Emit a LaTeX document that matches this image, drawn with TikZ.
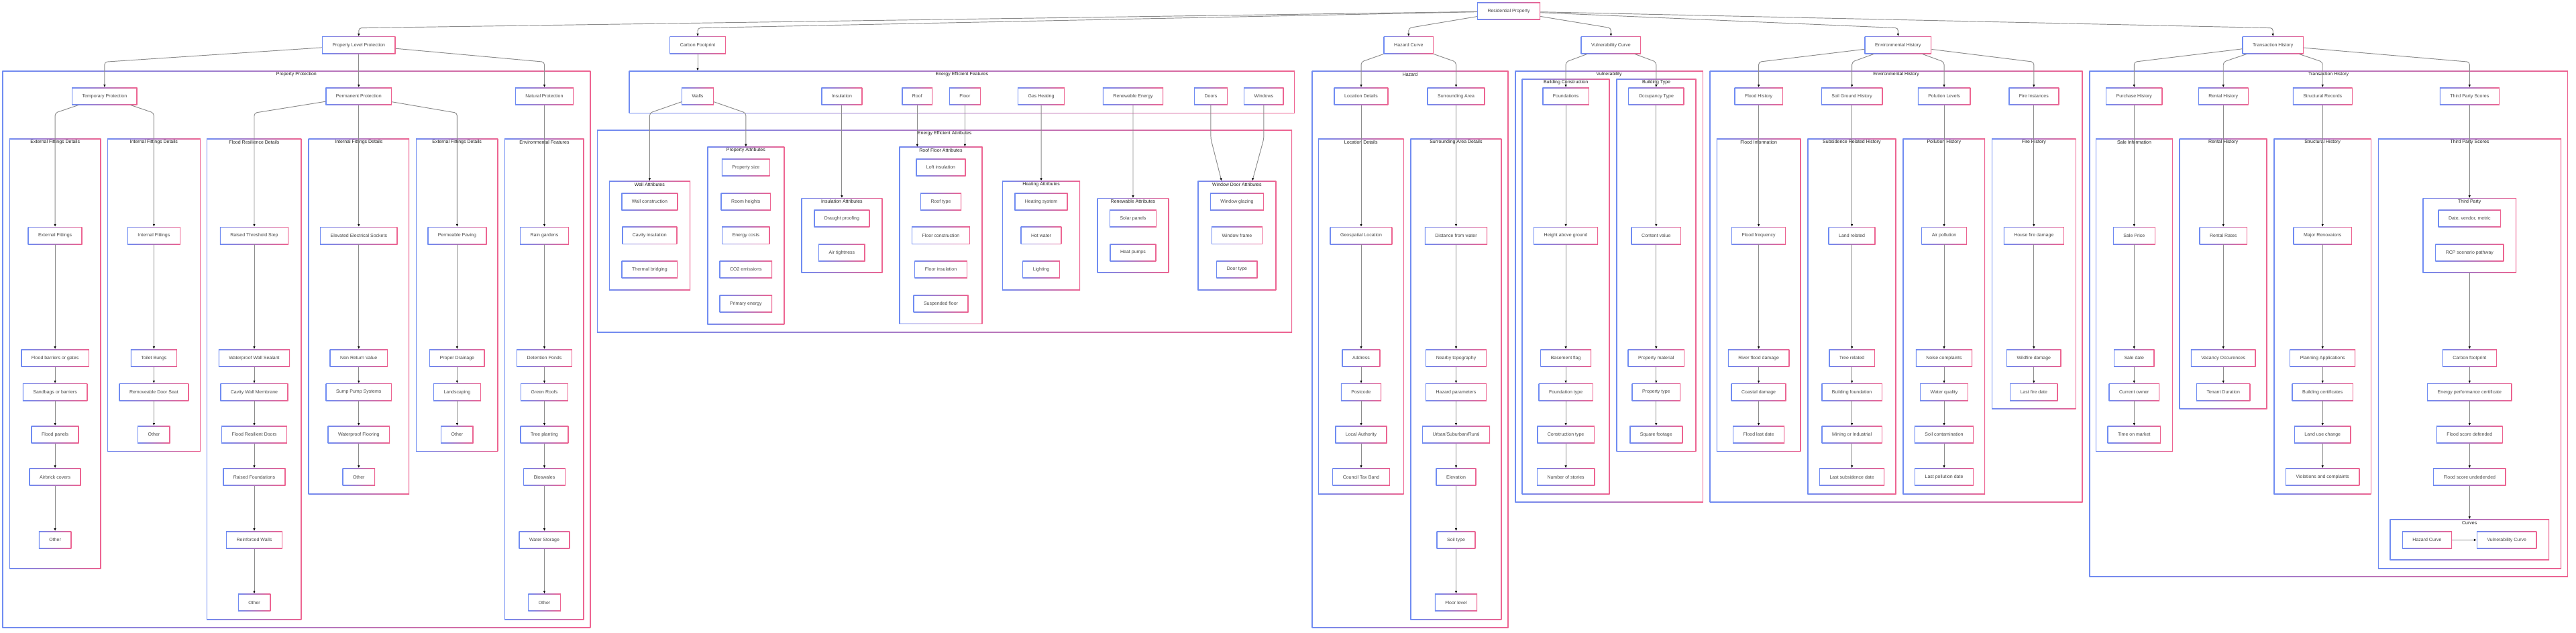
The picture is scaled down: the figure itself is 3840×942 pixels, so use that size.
\documentclass[tikz,border=0pt]{standalone}
\usepackage{fontspec}
\setmainfont{Liberation Sans}
\usetikzlibrary{arrows.meta}
\definecolor{cblue}{RGB}{112,140,242}
\definecolor{cpink}{RGB}{238,100,145}
\definecolor{txtgray}{RGB}{70,70,70}
\definecolor{ttlgray}{RGB}{30,30,30}
\definecolor{edgegray}{RGB}{140,140,140}
\tikzset{
	gradframe/.style={fill=white, path picture={
		\shade[left color=cblue, right color=cpink] (path picture bounding box.south west) rectangle (path picture bounding box.north east);
		\fill[white] ([shift={(1.2pt,1.2pt)}]path picture bounding box.south west) rectangle ([shift={(-1.2pt,-1.2pt)}]path picture bounding box.north east);}},
	box/.style={gradframe, rectangle, inner xsep=15.5pt, inner ysep=0pt, minimum height=26pt, text=txtgray, font=\fontsize{7}{8.4}\selectfont},
	grp/.style={gradframe, rectangle, anchor=north west, inner sep=0pt, outer sep=0pt},
	ttl/.style={inner sep=0pt, text=ttlgray, font=\fontsize{7}{8.4}\selectfont},
	conn/.style={draw=edgegray, line width=0.95pt, rounded corners=4pt, -{Latex[length=4pt,width=3.6pt,color=black]}},
}
\def\grp(#1)(#2,#3)(#4,#5)#6{\node[grp, minimum width={(#4-#2)*1pt}, minimum height={(#5-#3)*1pt}] (#1) at (#2,#3) {};
	\node[ttl] (#1-t) at ({(#2+#4)/2},{#3+5.3}) {#6};}
\def\lnk(#1)(#2)(#3){\draw[conn] (#1) -- (#2.north |- #3) -- (#2.north);}

\begin{document}
\begin{tikzpicture}[x=1pt,y=-1pt]
			%%%%% START %%%%%
			
			\fill[white] (0,0) rectangle (3840,942);
			\useasboundingbox (0,0) rectangle (3840,942);
			\coordinate (row1) at (0,41.7);
			\coordinate (row2) at (0,92.3);
			\coordinate (row3) at (0,168.3);
			\coordinate (row4) at (0,206.7);
			
			% property protection
			\grp(gPP)(3.3,105.3)(880.4,935.3){Property Protection}
			\grp(gEF1)(13.9,206.3)(150.6,847.3){External Fittings Details}
			\grp(gIF1)(160,206.3)(298.8,672.7){Internal Fittings Details}
			\grp(gFR)(308.2,206.3)(449.4,923.3){Flood Resilience Details}
			\grp(gIF2)(459.6,206.3)(610.2,736.3){Internal Fittings Details}
			\grp(gEF2)(620,206.3)(742.4,672.7){External Fittings Details}
			\grp(gENV)(752.2,206.3)(870.6,923.3){Environmental Features}
			
			% energy efficiency
			\grp(gEEF)(937.6,105.3)(1930.2,168.7){Energy Efficient Features}
			\grp(gEEA)(890.2,193.3)(1926.1,495.5){Energy Efficient Attributes}
			\grp(gWA)(907.8,269.3)(1029,432.3){Wall Attributes}
			\grp(gPA)(1054.3,218.7)(1169.4,483){Property Attributes}
			\grp(gIA)(1194.3,295)(1315.5,406.3){Insulation Attributes}
			\grp(gRF)(1340.4,218.7)(1464.5,482.7){Roof Floor Attributes}
			\grp(gHA)(1493.9,269.3)(1610.2,432.3){Heating Attributes}
			\grp(gRA)(1635.5,295)(1742.4,406.3){Renewable Attributes}
			\grp(gWD)(1785.3,269.3)(1902.4,432.3){Window Door Attributes}
			
			% hazard and vulnerability
			\grp(gHZ)(1955.5,105.3)(2248.6,935.3){Hazard}
			\grp(gLD)(1964.9,206.3)(2092.7,736.3){Location Details}
			\grp(gSA)(2102.4,206.3)(2238.4,923.3){Surrounding Area Details}
			\grp(gVU)(2258.4,105.3)(2538.8,748.3){Vulnerability}
			\grp(gBC)(2268.6,117.7)(2399.6,736.3){Building Construction}
			\grp(gBT)(2409.4,117.7)(2528.6,672.7){Building Type}
			
			% environmental history
			\grp(gEH)(2548.6,105.3)(3104.5,748.3){Environmental History}
			\grp(gFI)(2558.8,206.3)(2684.5,672.7){Flood Information}
			\grp(gSR)(2694.3,206.3)(2826.5,736.3){Subsidence Related History}
			\grp(gPH)(2836.3,206.3)(2959.2,736.3){Pollution History}
			\grp(gFH)(2969,206.3)(3094.7,609.3){Fire History}
			
			% transaction history
			\grp(gTH)(3114.3,105.3)(3827.8,859.3){Transaction History}
			\grp(gSI)(3124.1,206.3)(3238.8,672.7){Sale Information}
			\grp(gRH)(3248.6,206.3)(3379.6,609.3){Rental History}
			\grp(gSH)(3389.4,206.3)(3534.7,736.3){Structural History}
			\grp(gTS)(3544.9,206.3)(3818,847.3){Third Party Scores}
			\grp(gTP)(3611.4,295)(3751,406.3){Third Party}
			\grp(gCV)(3562.4,773.3)(3800,834.3){Curves}
			
			% top levels
			\node[box] (res) at (2249,16.7) {Residential Property};
			\node[box] (plp) at (534.8,67.3) {Property Level Protection};
			\node[box] (cfp) at (1040,67.3) {Carbon Footprint};
			\node[box] (hzc) at (2099.8,67.3) {Hazard Curve};
			\node[box] (vuc) at (2401.4,67.3) {Vulnerability Curve};
			\node[box] (enh) at (2829.4,67.3) {Environmental History};
			\node[box] (trh) at (3388.2,67.3) {Transaction History};
			
			\node[box] (tmp) at (155.9,143.3) {Temporary Protection};
			\node[box] (prm) at (534.8,143.3) {Permanent Protection};
			\node[box] (nat) at (811.5,143.3) {Natural Protection};
			\node[box] (walls) at (1040,143.3) {Walls};
			\node[box] (ins) at (1254.9,143.3) {Insulation};
			\node[box] (roof) at (1367.3,143.3) {Roof};
			\node[box] (floor) at (1438.4,143.3) {Floor};
			\node[box] (gas) at (1552,143.3) {Gas Heating};
			\node[box] (ren) at (1689,143.3) {Renewable Energy};
			\node[box] (doors) at (1804.9,143.3) {Doors};
			\node[box] (win) at (1883.9,143.3) {Windows};
			\node[box] (loc) at (2029,143.3) {Location Details};
			\node[box] (sur) at (2170.5,143.3) {Surrounding Area};
			\node[box] (fnd) at (2334.1,143.3) {Foundations};
			\node[box] (occ) at (2468.8,143.3) {Occupancy Type};
			\node[box] (flh) at (2621.6,143.3) {Flood History};
			\node[box] (sgh) at (2760.6,143.3) {Soil Ground History};
			\node[box] (pol) at (2898,143.3) {Polution Levels};
			\node[box] (fir) at (3031.8,143.3) {Fire Instances};
			\node[box] (pur) at (3181.3,143.3) {Purchase History};
			\node[box] (rnt) at (3314.2,143.3) {Rental History};
			\node[box] (str) at (3462.2,143.3) {Structural Records};
			\node[box] (tps) at (3681.3,143.3) {Third Party Scores};
			
			% property protection columns
			\node[box] (ext1) at (82.1,351) {External Fittings};
			\node[box] (ext2) at (82.1,533.3) {Flood barriers or gates};
			\node[box] (ext3) at (82.1,584.2) {Sandbags or barriers};
			\node[box] (ext4) at (82.1,647.3) {Flood panels};
			\node[box] (ext5) at (82.1,710.5) {Airbrick covers};
			\node[box] (ext6) at (82.1,804.3) {Other};
			
			\node[box] (int1) at (229.4,351) {Internal Fittings};
			\node[box] (int2) at (229.4,533.3) {Toilet Bungs};
			\node[box] (int3) at (229.4,584.2) {Removeable Door Seat};
			\node[box] (int4) at (229.4,647.3) {Other};
			
			\node[box] (frd1) at (379,351) {Raised Threshold Step};
			\node[box] (frd2) at (379,533.3) {Waterproof Wall Sealant};
			\node[box] (frd3) at (379,584.2) {Cavity Wall Membrane};
			\node[box] (frd4) at (379,647.3) {Flood Resilient Doors};
			\node[box] (frd5) at (379,710.5) {Raised Foundations};
			\node[box] (frd6) at (379,804.3) {Reinforced Walls};
			\node[box] (frd7) at (379,897.5) {Other};
			
			\node[box] (ifd1) at (534.8,351) {Elevated Electrical Sockets};
			\node[box] (ifd2) at (534.8,533.3) {Non Return Value};
			\node[box] (ifd3) at (534.8,584.2) {Sump Pump Systems};
			\node[box] (ifd4) at (534.8,647.3) {Waterproof Flooring};
			\node[box] (ifd5) at (534.8,710.5) {Other};
			
			\node[box] (efd1) at (681.4,351) {Permeable Paving};
			\node[box] (efd2) at (681.4,533.3) {Proper Drainage};
			\node[box] (efd3) at (681.4,584.2) {Landscaping};
			\node[box] (efd4) at (681.4,647.3) {Other};
			
			\node[box] (env1) at (811.5,351) {Rain gardens};
			\node[box] (env2) at (811.5,533.3) {Detention Ponds};
			\node[box] (env3) at (811.5,584.2) {Green Roofs};
			\node[box] (env4) at (811.5,647.3) {Tree planting};
			\node[box] (env5) at (811.5,710.5) {Bioswales};
			\node[box] (env6) at (811.5,804.3) {Water Storage};
			\node[box] (env7) at (811.5,897.5) {Other};
			
			% energy attributes
			\node[box] (wa1) at (968.4,300.3) {Wall construction};
			\node[box] (wa2) at (968.4,350.8) {Cavity insulation};
			\node[box] (wa3) at (968.4,401.3) {Thermal bridging};
			
			\node[box] (pa1) at (1111.8,249.3) {Property size};
			\node[box] (pa2) at (1111.8,300.3) {Room heights};
			\node[box] (pa3) at (1111.8,350.8) {Energy costs};
			\node[box] (pa4) at (1111.8,401.3) {CO2 emissions};
			\node[box] (pa5) at (1111.8,452.3) {Primary energy};
			
			\node[box] (ia1) at (1254.9,325.3) {Draught proofing};
			\node[box] (ia2) at (1254.9,376.3) {Air tightness};
			
			\node[box] (rf1) at (1402.5,249.3) {Loft insulation};
			\node[box] (rf2) at (1402.5,300.3) {Roof type};
			\node[box] (rf3) at (1402.5,350.8) {Floor construction};
			\node[box] (rf4) at (1402.5,401.3) {Floor insulation};
			\node[box] (rf5) at (1402.5,452.3) {Suspended floor};
			
			\node[box] (ha1) at (1552,300.3) {Heating system};
			\node[box] (ha2) at (1552,350.8) {Hot water};
			\node[box] (ha3) at (1552,401.3) {Lighting};
			
			\node[box] (ra1) at (1689,325.3) {Solar panels};
			\node[box] (ra2) at (1689,376.3) {Heat pumps};
			
			\node[box] (wd1) at (1843.9,300.3) {Window glazing};
			\node[box] (wd2) at (1843.9,350.8) {Window frame};
			\node[box] (wd3) at (1843.9,401.3) {Door type};
			
			% hazard columns
			\node[box] (ld1) at (2029,351) {Geospatial Location};
			\node[box] (ld2) at (2029,533.3) {Address};
			\node[box] (ld3) at (2029,584.2) {Postcode};
			\node[box] (ld4) at (2029,647.3) {Local Authority};
			\node[box] (ld5) at (2029,710.5) {Council Tax Band};
			
			\node[box] (sa1) at (2170.5,351) {Distance from water};
			\node[box] (sa2) at (2170.5,533.3) {Nearby topography};
			\node[box] (sa3) at (2170.5,584.2) {Hazard parameters};
			\node[box] (sa4) at (2170.5,647.3) {Urban/Suburban/Rural};
			\node[box] (sa5) at (2170.5,710.5) {Elevation};
			\node[box] (sa6) at (2170.5,804.3) {Soil type};
			\node[box] (sa7) at (2170.5,897.5) {Floor level};
			
			% vulnerability columns
			\node[box] (bc1) at (2334.1,351) {Height above ground};
			\node[box] (bc2) at (2334.1,533.3) {Basement flag};
			\node[box] (bc3) at (2334.1,584.2) {Foundation type};
			\node[box] (bc4) at (2334.1,647.3) {Construction type};
			\node[box] (bc5) at (2334.1,710.5) {Number of stories};
			
			\node[box] (bt1) at (2468.8,351) {Content value};
			\node[box] (bt2) at (2468.8,533.3) {Property material};
			\node[box] (bt3) at (2468.8,584.2) {Property type};
			\node[box] (bt4) at (2468.8,647.3) {Square footage};
			
			% environmental history columns
			\node[box] (fi1) at (2621.6,351) {Flood frequency};
			\node[box] (fi2) at (2621.6,533.3) {River flood damage};
			\node[box] (fi3) at (2621.6,584.2) {Coastal damage};
			\node[box] (fi4) at (2621.6,647.3) {Flood last date};
			
			\node[box] (sr1) at (2760.6,351) {Land related};
			\node[box] (sr2) at (2760.6,533.3) {Tree related};
			\node[box] (sr3) at (2760.6,584.2) {Building foundation};
			\node[box] (sr4) at (2760.6,647.3) {Mining or Industrial};
			\node[box] (sr5) at (2760.6,710.5) {Last subsidence date};
			
			\node[box] (ph1) at (2898,351) {Air pollution};
			\node[box] (ph2) at (2898,533.3) {Noise complaints};
			\node[box] (ph3) at (2898,584.2) {Water quality};
			\node[box] (ph4) at (2898,647.3) {Soil contamination};
			\node[box] (ph5) at (2898,710.5) {Last pollution date};
			
			\node[box] (fh1) at (3031.8,351) {House fire damage};
			\node[box] (fh2) at (3031.8,533.3) {Wildfire damage};
			\node[box] (fh3) at (3031.8,584.2) {Last fire date};
			
			% transaction history columns
			\node[box] (si1) at (3181.3,351) {Sale Price};
			\node[box] (si2) at (3181.3,533.3) {Sale date};
			\node[box] (si3) at (3181.3,584.2) {Current owner};
			\node[box] (si4) at (3181.3,647.3) {Time on market};
			
			\node[box] (rh1) at (3314.2,351) {Rental Rates};
			\node[box] (rh2) at (3314.2,533.3) {Vacancy Occurences};
			\node[box] (rh3) at (3314.2,584.2) {Tenant Duration};
			
			\node[box] (sh1) at (3462.2,351) {Major Renovaions};
			\node[box] (sh2) at (3462.2,533.3) {Planning Applications};
			\node[box] (sh3) at (3462.2,584.2) {Building certificates};
			\node[box] (sh4) at (3462.2,647.3) {Land use change};
			\node[box] (sh5) at (3462.2,710.5) {Violations and complaints};
			
			\node[box] (tp1) at (3681.3,325.3) {Date, vendor, metric};
			\node[box] (tp2) at (3681.3,376.3) {RCP scenario pathway};
			\node[box] (ts1) at (3681.3,533.3) {Carbon footprint};
			\node[box] (ts2) at (3681.3,584.2) {Energy performance certificate};
			\node[box] (ts3) at (3681.3,647.3) {Flood score defended};
			\node[box] (ts4) at (3681.3,710.5) {Flood score undedended};
			\node[box] (cv1) at (3618,804.3) {Hazard Curve};
			\node[box] (cv2) at (3736.7,804.3) {Vulnerability Curve};
			
			% connectors from the top
			\lnk(res)(plp)(row1)
			\lnk(res)(cfp)(row1)
			\lnk(res)(hzc)(row1)
			\lnk(res)(vuc)(row1)
			\lnk(res)(enh)(row1)
			\lnk(res)(trh)(row1)
			
			\lnk(plp)(tmp)(row2)
			\draw[conn] (plp) -- (prm);
			\lnk(plp)(nat)(row2)
			\lnk(tmp)(ext1)(row3)
			\lnk(tmp)(int1)(row3)
			\lnk(prm)(frd1)(row3)
			\draw[conn] (prm) -- (ifd1);
			\lnk(prm)(efd1)(row3)
			\draw[conn] (nat) -- (env1);
			
			\draw[conn] (ext1) -- (ext2);
			\draw[conn] (ext2) -- (ext3);
			\draw[conn] (ext3) -- (ext4);
			\draw[conn] (ext4) -- (ext5);
			\draw[conn] (ext5) -- (ext6);
			\draw[conn] (int1) -- (int2);
			\draw[conn] (int2) -- (int3);
			\draw[conn] (int3) -- (int4);
			\draw[conn] (frd1) -- (frd2);
			\draw[conn] (frd2) -- (frd3);
			\draw[conn] (frd3) -- (frd4);
			\draw[conn] (frd4) -- (frd5);
			\draw[conn] (frd5) -- (frd6);
			\draw[conn] (frd6) -- (frd7);
			\draw[conn] (ifd1) -- (ifd2);
			\draw[conn] (ifd2) -- (ifd3);
			\draw[conn] (ifd3) -- (ifd4);
			\draw[conn] (ifd4) -- (ifd5);
			\draw[conn] (efd1) -- (efd2);
			\draw[conn] (efd2) -- (efd3);
			\draw[conn] (efd3) -- (efd4);
			\draw[conn] (env1) -- (env2);
			\draw[conn] (env2) -- (env3);
			\draw[conn] (env3) -- (env4);
			\draw[conn] (env4) -- (env5);
			\draw[conn] (env5) -- (env6);
			\draw[conn] (env6) -- (env7);
			
			% energy connectors
			\draw[conn] (cfp) -- (cfp |- gEEF.north);
			\lnk(walls)(gWA)(row3)
			\lnk(walls)(gPA)(row3)
			\draw[conn] (ins) -- (gIA);
			\draw[conn] (roof) -- (roof |- gRF.north);
			\draw[conn] (floor) -- (floor |- gRF.north);
			\draw[conn] (gas) -- (gHA);
			\draw[conn] (ren) -- (gRA);
			\draw[conn] (doors) -- (doors |- row4) -- ([xshift=-23pt]gWD.north);
			\draw[conn] (win) -- (win |- row4) -- ([xshift=23pt]gWD.north);
			
			% hazard and vulnerability connectors
			\lnk(hzc)(loc)(row2)
			\lnk(hzc)(sur)(row2)
			\lnk(vuc)(fnd)(row2)
			\lnk(vuc)(occ)(row2)
			\draw[conn] (loc) -- (ld1);
			\draw[conn] (ld1) -- (ld2);
			\draw[conn] (ld2) -- (ld3);
			\draw[conn] (ld3) -- (ld4);
			\draw[conn] (ld4) -- (ld5);
			\draw[conn] (sur) -- (sa1);
			\draw[conn] (sa1) -- (sa2);
			\draw[conn] (sa2) -- (sa3);
			\draw[conn] (sa3) -- (sa4);
			\draw[conn] (sa4) -- (sa5);
			\draw[conn] (sa5) -- (sa6);
			\draw[conn] (sa6) -- (sa7);
			\draw[conn] (fnd) -- (bc1);
			\draw[conn] (bc1) -- (bc2);
			\draw[conn] (bc2) -- (bc3);
			\draw[conn] (bc3) -- (bc4);
			\draw[conn] (bc4) -- (bc5);
			\draw[conn] (occ) -- (bt1);
			\draw[conn] (bt1) -- (bt2);
			\draw[conn] (bt2) -- (bt3);
			\draw[conn] (bt3) -- (bt4);
			
			% environmental history connectors
			\lnk(enh)(flh)(row2)
			\lnk(enh)(sgh)(row2)
			\lnk(enh)(pol)(row2)
			\lnk(enh)(fir)(row2)
			\draw[conn] (flh) -- (fi1);
			\draw[conn] (fi1) -- (fi2);
			\draw[conn] (fi2) -- (fi3);
			\draw[conn] (fi3) -- (fi4);
			\draw[conn] (sgh) -- (sr1);
			\draw[conn] (sr1) -- (sr2);
			\draw[conn] (sr2) -- (sr3);
			\draw[conn] (sr3) -- (sr4);
			\draw[conn] (sr4) -- (sr5);
			\draw[conn] (pol) -- (ph1);
			\draw[conn] (ph1) -- (ph2);
			\draw[conn] (ph2) -- (ph3);
			\draw[conn] (ph3) -- (ph4);
			\draw[conn] (ph4) -- (ph5);
			\draw[conn] (fir) -- (fh1);
			\draw[conn] (fh1) -- (fh2);
			\draw[conn] (fh2) -- (fh3);
			
			% transaction history connectors
			\lnk(trh)(pur)(row2)
			\lnk(trh)(rnt)(row2)
			\lnk(trh)(str)(row2)
			\lnk(trh)(tps)(row2)
			\draw[conn] (pur) -- (si1);
			\draw[conn] (si1) -- (si2);
			\draw[conn] (si2) -- (si3);
			\draw[conn] (si3) -- (si4);
			\draw[conn] (rnt) -- (rh1);
			\draw[conn] (rh1) -- (rh2);
			\draw[conn] (rh2) -- (rh3);
			\draw[conn] (str) -- (sh1);
			\draw[conn] (sh1) -- (sh2);
			\draw[conn] (sh2) -- (sh3);
			\draw[conn] (sh3) -- (sh4);
			\draw[conn] (sh4) -- (sh5);
			\draw[conn] (tps) -- (gTP);
			\draw[conn] (gTP) -- (ts1);
			\draw[conn] (ts1) -- (ts2);
			\draw[conn] (ts2) -- (ts3);
			\draw[conn] (ts3) -- (ts4);
			\draw[conn] (ts4) -- (gCV);
			\draw[conn] (cv1) -- (cv2);
			
			%%%%% END %%%%%
\end{tikzpicture}
\end{document}
